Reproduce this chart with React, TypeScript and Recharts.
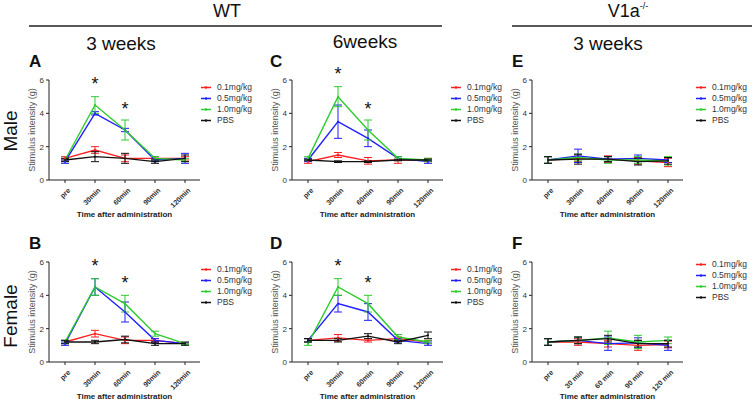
import React from "react";
import { LineChart, Line, XAxis, YAxis, ErrorBar, Legend, ReferenceDot } from "recharts";

const TIMES = ["pre", "30min", "60min", "90min", "120min"];
const TIMES_SPACED = ["pre", "30 min", "60 min", "90 min", "120 min"];
const SERIES = ["0.1mg/kg", "0.5mg/kg", "1.0mg/kg", "PBS"];
const COLORS = ["#ff1f1f", "#1f1fff", "#2ecc2e", "#111111"];
const Y_TICKS = [0, 2, 4, 6];

// rows: 0.1mg/kg, 0.5mg/kg, 1.0mg/kg, PBS
const meansA = [
  [1.3, 1.8, 1.3, 1.3, 1.3],
  [1.1, 4.0, 3.0, 1.2, 1.3],
  [1.2, 4.5, 3.0, 1.3, 1.2],
  [1.2, 1.4, 1.3, 1.1, 1.3],
];
const errsA = [
  [0.1, 0.2, 0.2, 0.1, 0.1],
  [0.1, 0.1, 0.1, 0.1, 0.3],
  [0.1, 0.5, 0.6, 0.1, 0.1],
  [0.1, 0.3, 0.3, 0.1, 0.2],
];

const meansC = [
  [1.1, 1.5, 1.15, 1.2, 1.2],
  [1.2, 3.5, 2.5, 1.3, 1.1],
  [1.3, 5.0, 3.0, 1.3, 1.2],
  [1.2, 1.1, 1.1, 1.2, 1.2],
];
const errsC = [
  [0.1, 0.15, 0.2, 0.2, 0.1],
  [0.1, 1.0, 0.5, 0.1, 0.1],
  [0.1, 0.6, 0.6, 0.1, 0.1],
  [0.05, 0.05, 0.05, 0.05, 0.05],
];

const meansE = [
  [1.2, 1.3, 1.25, 1.15, 1.05],
  [1.2, 1.45, 1.25, 1.3, 1.2],
  [1.2, 1.35, 1.2, 1.2, 1.15],
  [1.2, 1.25, 1.25, 1.1, 1.15],
];
const errsE = [
  [0.2, 0.2, 0.2, 0.2, 0.25],
  [0.2, 0.4, 0.15, 0.2, 0.15],
  [0.2, 0.2, 0.2, 0.2, 0.25],
  [0.2, 0.3, 0.15, 0.2, 0.2],
];

const meansB = [
  [1.2, 1.7, 1.3, 1.3, 1.1],
  [1.1, 4.5, 3.0, 1.3, 1.1],
  [1.2, 4.5, 3.5, 1.7, 1.1],
  [1.2, 1.2, 1.35, 1.1, 1.1],
];
const errsB = [
  [0.1, 0.2, 0.2, 0.1, 0.05],
  [0.1, 0.5, 0.6, 0.1, 0.05],
  [0.1, 0.5, 0.5, 0.15, 0.05],
  [0.1, 0.1, 0.2, 0.1, 0.1],
];

const meansD = [
  [1.3, 1.45, 1.3, 1.4, 1.2],
  [1.3, 3.5, 3.0, 1.3, 1.1],
  [1.1, 4.5, 3.5, 1.5, 1.2],
  [1.3, 1.3, 1.55, 1.2, 1.6],
];
const errsD = [
  [0.1, 0.2, 0.1, 0.1, 0.1],
  [0.1, 0.5, 0.5, 0.1, 0.1],
  [0.1, 0.5, 0.5, 0.15, 0.1],
  [0.1, 0.1, 0.15, 0.1, 0.2],
];

const meansF = [
  [1.2, 1.2, 1.1, 1.0, 1.05],
  [1.2, 1.3, 1.1, 1.15, 1.0],
  [1.2, 1.3, 1.45, 1.2, 1.3],
  [1.2, 1.3, 1.4, 1.1, 1.1],
];
const errsF = [
  [0.2, 0.2, 0.2, 0.3, 0.2],
  [0.2, 0.2, 0.4, 0.3, 0.3],
  [0.2, 0.2, 0.4, 0.4, 0.2],
  [0.2, 0.2, 0.2, 0.2, 0.2],
];

// significance stars (category, height in g)
const starsA = [["30min", 6.0], ["60min", 4.5]];
const starsC = [["30min", 6.6], ["60min", 4.5]];
const starsB = [["30min", 6.0], ["60min", 5.0]];
const starsD = [["30min", 6.0], ["60min", 5.0]];

const FONT = "'Liberation Sans', Arial, sans-serif";

const buildRows = (times: string[], means: number[][], errs: number[][]) =>
  times.map((t, i) => {
    const row: any = { time: t };
    means.forEach((m, s) => {
      row[`s${s}`] = m[i];
      row[`e${s}`] = errs[s][i];
    });
    return row;
  });

const XTick = ({ x, y, payload }: any) => (
  <g transform={`translate(${x + 3},${y + 3})`}>
    <text
      x={0}
      y={0}
      dy={4}
      textAnchor="end"
      transform="rotate(-45)"
      fontSize={7.2}
      fontWeight="bold"
      fill="#333"
      fontFamily={FONT}
    >
      {payload.value}
    </text>
  </g>
);

const LegendBox = () => (
  <div style={{ fontFamily: FONT, fontSize: 8.5, color: "#333", lineHeight: "11px" }}>
    {SERIES.map((name, i) => (
      <div key={name} style={{ display: "flex", alignItems: "center", height: 11 }}>
        <svg width={12} height={11} style={{ marginRight: 5 }}>
          <line x1={1} y1={5.5} x2={11} y2={5.5} stroke={COLORS[i]} strokeWidth={1.5} />
          <circle cx={6} cy={5.5} r={1.2} fill={COLORS[i]} />
        </svg>
        <span>{name}</span>
      </div>
    ))}
  </div>
);

const Star = ({ cx, cy }: any) => (
  <text x={cx} y={cy + 10} textAnchor="middle" fontSize={18} fill="#111" fontFamily={FONT}>
    *
  </text>
);

type PanelProps = {
  left: number;
  top: number;
  times: string[];
  means: number[][];
  errs: number[][];
  stars?: any[][];
  legendLeft: number;
  legendTop: number;
};

const Panel = ({ left, top, times, means, errs, stars = [], legendLeft, legendTop }: PanelProps) => {
  const rows = buildRows(times, means, errs);
  return (
    <div style={{ position: "absolute", left, top }}>
      <LineChart width={260} height={160} data={rows} margin={{ top: 20, right: 60, left: 19, bottom: 0 }}>
        <XAxis
          dataKey="time"
          height={40}
          padding={{ left: 16, right: 15 }}
          tick={<XTick />}
          tickSize={3}
          stroke="#222"
          interval={0}
          label={{
            value: "Time after administration",
            position: "insideBottom",
            offset: 3,
            style: { fontSize: 8, fontWeight: "bold", fill: "#222", fontFamily: FONT },
          }}
        />
        <YAxis
          width={30}
          domain={[0, 6]}
          ticks={Y_TICKS}
          tickSize={3}
          stroke="#222"
          tick={{ fontSize: 8, fill: "#333", fontFamily: FONT }}
          label={{
            value: "Stimulus intensity (g)",
            angle: -90,
            position: "insideLeft",
            offset: 13,
            style: { fontSize: 9, fill: "#555", fontFamily: FONT, textAnchor: "middle" },
          }}
        />
        {SERIES.map((name, s) => (
          <Line
            key={name}
            dataKey={`s${s}`}
            name={name}
            stroke={COLORS[s]}
            strokeWidth={1.4}
            dot={{ r: 1, fill: COLORS[s], stroke: "none" }}
            isAnimationActive={false}
          >
            <ErrorBar dataKey={`e${s}`} width={4} stroke={COLORS[s]} strokeWidth={1} direction="y" />
          </Line>
        ))}
        {stars.map(([cat, val], i) => (
          <ReferenceDot key={i} x={cat} y={val} ifOverflow="visible" shape={<Star />} />
        ))}
        <Legend
          layout="vertical"
          align="center"
          verticalAlign="middle"
          content={<LegendBox />}
          wrapperStyle={{ left: legendLeft, top: legendTop, width: 60, height: 48 }}
        />
      </LineChart>
    </div>
  );
};

const App = () => {
  const colX = [0, 243, 483];
  const rowY = [60, 242];
  return (
    <div style={{ position: "absolute", left: 0, top: 0, width: 752, height: 401, background: "#fff" }}>
      <svg width={752} height={401} style={{ position: "absolute", left: 0, top: 0 }} fontFamily={FONT}>
        <text x={227} y={17} textAnchor="middle" fontSize={18} fill="#111">WT</text>
        <text x={628} y={17} textAnchor="middle" fontSize={18} fill="#111">
          V1a<tspan fontSize={9} dy={-8}>-/-</tspan>
        </text>
        <line x1={29} y1={26} x2={442} y2={26} stroke="#222" strokeWidth={1.5} />
        <line x1={512} y1={26} x2={752} y2={26} stroke="#222" strokeWidth={1.5} />
        <text x={121} y={50} textAnchor="middle" fontSize={19} fill="#111">3 weeks</text>
        <text x={365} y={48} textAnchor="middle" fontSize={19} fill="#111">6weeks</text>
        <text x={608} y={50} textAnchor="middle" fontSize={19} fill="#111">3 weeks</text>
        <text x={29} y={67} fontSize={17} fontWeight="bold" fill="#111">A</text>
        <text x={270} y={67} fontSize={17} fontWeight="bold" fill="#111">C</text>
        <text x={512} y={67} fontSize={17} fontWeight="bold" fill="#111">E</text>
        <text x={29} y={249} fontSize={17} fontWeight="bold" fill="#111">B</text>
        <text x={270} y={249} fontSize={17} fontWeight="bold" fill="#111">D</text>
        <text x={512} y={249} fontSize={17} fontWeight="bold" fill="#111">F</text>
        <text x={17} y={131} textAnchor="middle" fontSize={19} fill="#111" transform="rotate(-90, 17, 131)">Male</text>
        <text x={17} y={316} textAnchor="middle" fontSize={19} fill="#111" transform="rotate(-90, 17, 316)">Female</text>
      </svg>
      <Panel left={colX[0]} top={rowY[0]} times={TIMES} means={meansA} errs={errsA} stars={starsA} legendLeft={200} legendTop={22} />
      <Panel left={colX[1]} top={rowY[0]} times={TIMES} means={meansC} errs={errsC} stars={starsC} legendLeft={207} legendTop={22} />
      <Panel left={colX[2]} top={rowY[0]} times={TIMES} means={meansE} errs={errsE} legendLeft={212} legendTop={22} />
      <Panel left={colX[0]} top={rowY[1]} times={TIMES} means={meansB} errs={errsB} stars={starsB} legendLeft={200} legendTop={22} />
      <Panel left={colX[1]} top={rowY[1]} times={TIMES} means={meansD} errs={errsD} stars={starsD} legendLeft={207} legendTop={22} />
      <Panel left={colX[2]} top={rowY[1]} times={TIMES_SPACED} means={meansF} errs={errsF} legendLeft={212} legendTop={17} />
    </div>
  );
};

export default App;
